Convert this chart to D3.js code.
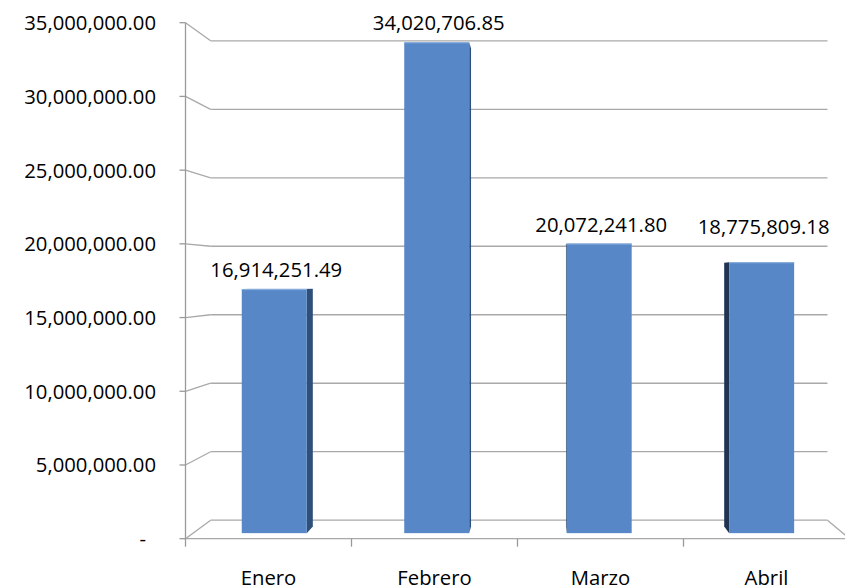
<!DOCTYPE html>
<html>
<head>
<meta charset="utf-8">
<script src="https://cdn.jsdelivr.net/npm/d3@7"></script>
<style>
  html, body { margin: 0; padding: 0; background: #fff; }
  svg { display: block; font-family: "Open Sans", sans-serif; }
</style>
</head>
<body>
<svg id="chart" width="845" height="588"></svg>
<script>
// ---- data ----
const categories = ["Enero", "Febrero", "Marzo", "Abril"];
const values = [16914251.49, 34020706.85, 20072241.80, 18775809.18];
const valueLabels = ["16,914,251.49", "34,020,706.85", "20,072,241.80", "18,775,809.18"];
const tickValues = [0, 5000000, 10000000, 15000000, 20000000, 25000000, 30000000, 35000000];
const tickLabels = ["-", "5,000,000.00", "10,000,000.00", "15,000,000.00", "20,000,000.00", "25,000,000.00", "30,000,000.00", "35,000,000.00"];

// ---- layout ----
const svg = d3.select("#chart");
const W = 845, H = 588;
const frontLeft = 185.5, frontRight = 849.5;
const frontTop = 22.7, frontBottom = 538.7;
const VP = [539, 278];           // vanishing point
const depthShrink = 0.071;       // scale lost from front (t=0) to back wall (t=1)
const barDepth = [0.30, 0.66];   // bar front/back depth

const x = d3.scaleBand().domain(categories).range([frontLeft, frontRight])
  .paddingInner(0.6).paddingOuter(0.3);
const xCat = d3.scaleBand().domain(categories).range([frontLeft, frontRight]).padding(0);
const y = d3.scaleLinear().domain([0, 35000000]).range([frontBottom, frontTop]);

function proj(px, py, t) {
  const s = 1 - depthShrink * t;
  return [VP[0] + (px - VP[0]) * s, VP[1] + (py - VP[1]) * s];
}
const line = d3.line();

const gridColor = "#A9A9A9";
const axisColor = "#9A9A9A";

const g = svg.append("g");

// back wall gridlines
tickValues.forEach(v => {
  const a = proj(frontLeft, y(v), 1), b = proj(frontRight, y(v), 1);
  g.append("path").attr("d", line([a, b])).attr("stroke", gridColor).attr("stroke-width", 1.3).attr("fill", "none");
  // left wall diagonal
  const f = proj(frontLeft, y(v), 0);
  g.append("path").attr("d", line([f, a])).attr("stroke", gridColor).attr("stroke-width", 1.3).attr("fill", "none");
});
// floor: front edge and right diagonal
g.append("path").attr("d", line([proj(frontLeft, y(0), 0), proj(frontRight, y(0), 0)]))
  .attr("stroke", gridColor).attr("stroke-width", 1.3).attr("fill", "none");
g.append("path").attr("d", line([proj(frontRight, y(0), 1), proj(frontRight, y(0), 0)]))
  .attr("stroke", gridColor).attr("stroke-width", 1.3).attr("fill", "none");

// bars
const frontFill = "#5787C6", sideRight = "#2F4F7B", sideLeft = "#1F3452", topFill = "#7FA5D8";
categories.forEach((c, i) => {
  const x0 = x(c), x1 = x(c) + x.bandwidth();
  const yt = y(values[i]), yb = y(0);
  const [tf, tb] = barDepth;
  const bg = g.append("g");
  // side faces
  if (x1 < VP[0]) {
    bg.append("path").attr("d", line([proj(x1, yt, tf), proj(x1, yt, tb), proj(x1, yb, tb), proj(x1, yb, tf)]) + "Z")
      .attr("fill", sideRight);
  }
  if (x0 > VP[0]) {
    bg.append("path").attr("d", line([proj(x0, yt, tf), proj(x0, yt, tb), proj(x0, yb, tb), proj(x0, yb, tf)]) + "Z")
      .attr("fill", sideLeft);
  }
  if (yt > VP[1]) {
    bg.append("path").attr("d", line([proj(x0, yt, tf), proj(x1, yt, tf), proj(x1, yt, tb), proj(x0, yt, tb)]) + "Z")
      .attr("fill", topFill);
  }
  const p0 = proj(x0, yt, tf), p1 = proj(x1, yb, tf);
  bg.append("rect").attr("x", p0[0]).attr("y", p0[1]).attr("width", p1[0] - p0[0]).attr("height", p1[1] - p0[1])
    .attr("fill", frontFill);
  bg.append("path").attr("d", line([[p0[0], p0[1] + 0.5], [p1[0], p0[1] + 0.5]]))
    .attr("stroke", "#8DB0DE").attr("stroke-width", 1).attr("fill", "none");

  // value label
  const cx = (p0[0] + p1[0]) / 2 + 2;
  const lift = (i === categories.length - 1) ? 28 : 12;
  g.append("text").attr("x", cx).attr("y", p0[1] - lift)
    .attr("text-anchor", "middle").attr("font-size", 20.3).attr("fill", "#000")
    .text(valueLabels[i]);
});

// front vertical axis
g.append("path").attr("d", line([[frontLeft, frontTop], [frontLeft, frontBottom]]))
  .attr("stroke", axisColor).attr("stroke-width", 1.3).attr("fill", "none");
tickValues.forEach((v, i) => {
  g.append("path").attr("d", line([[frontLeft - 6, y(v)], [frontLeft, y(v)]]))
    .attr("stroke", axisColor).attr("stroke-width", 1.3).attr("fill", "none");
  g.append("text").attr("x", v === 0 ? 146 : 156).attr("y", y(v) + 7.5)
    .attr("text-anchor", "end").attr("font-size", 20.3).attr("fill", "#000")
    .text(tickLabels[i]);
});

// category ticks and labels
categories.forEach((c, i) => {
  const xt = xCat(c);
  g.append("path").attr("d", line([[xt, frontBottom], [xt, frontBottom + 8]]))
    .attr("stroke", axisColor).attr("stroke-width", 1.3).attr("fill", "none");
  g.append("text").attr("x", xCat(c) + xCat.bandwidth() / 2).attr("y", 585)
    .attr("text-anchor", "middle").attr("font-size", 20.3).attr("fill", "#000")
    .text(c);
});
</script>
</body>
</html>
